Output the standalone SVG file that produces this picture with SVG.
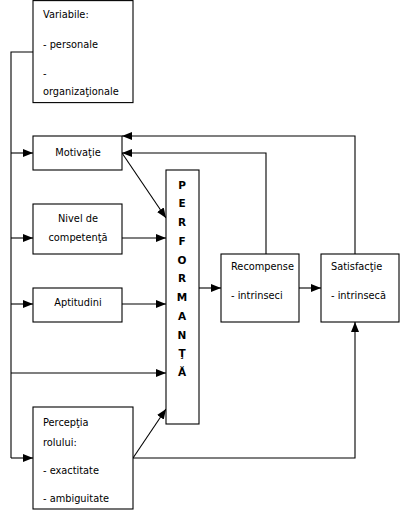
<svg xmlns="http://www.w3.org/2000/svg" width="401" height="530" viewBox="0 0 401 530">
<style>
.box{fill:#fff;stroke:#000;stroke-width:1.1}
.t{font-family:"DejaVu Sans",sans-serif;font-size:9.8px;fill:#000}
.c{text-anchor:middle}
.b{font-family:"DejaVu Sans",sans-serif;font-size:10.5px;font-weight:bold;text-anchor:middle;fill:#000}
.ln{fill:none;stroke:#000;stroke-width:1.1}
</style>
<defs>
<marker id="a" viewBox="0 0 10 8" refX="10" refY="4" markerWidth="10" markerHeight="8" markerUnits="userSpaceOnUse" orient="auto">
<path d="M0,0 L10,4 L0,8 z" fill="#000"/>
</marker>
</defs>
<rect width="401" height="530" fill="#fff"/>
<g id="connectors">
<path class="ln" d="M33,52 H11 V458"/>
<path class="ln" d="M11,153 H33" marker-end="url(#a)"/>
<path class="ln" d="M11,238 H33" marker-end="url(#a)"/>
<path class="ln" d="M11,304 H33" marker-end="url(#a)"/>
<path class="ln" d="M11,373 H166" marker-end="url(#a)"/>
<path class="ln" d="M11,458 H33" marker-end="url(#a)"/>
<path class="ln" d="M122,153 L166,218" marker-end="url(#a)"/>
<path class="ln" d="M122,238 H166" marker-end="url(#a)"/>
<path class="ln" d="M122,304 H166" marker-end="url(#a)"/>
<path class="ln" d="M133,458 L166,409" marker-end="url(#a)"/>
<path class="ln" d="M133,458 H355 V322" marker-end="url(#a)"/>
<path class="ln" d="M199,288 H221" marker-end="url(#a)"/>
<path class="ln" d="M299,288 H321" marker-end="url(#a)"/>
<path class="ln" d="M266,254 V153 H122" marker-end="url(#a)"/>
<path class="ln" d="M355,254 V136 H122" marker-end="url(#a)"/>
</g>
<g id="variabile">
<rect class="box" x="33" y="0.6" width="100" height="102"/>
<text class="t" x="43" y="18">Variabile:</text>
<text class="t" x="43" y="48">- personale</text>
<text class="t" x="43" y="77">-</text>
<text class="t" x="43" y="95">organizaţionale</text>
</g>
<g id="motivatie">
<rect class="box" x="33" y="136" width="89" height="34"/>
<text class="t c" x="78" y="156">Motivaţie</text>
</g>
<g id="competenta">
<rect class="box" x="33" y="204" width="89" height="50"/>
<text class="t c" x="78" y="222">Nivel de</text>
<text class="t c" x="78" y="241">competenţă</text>
</g>
<g id="aptitudini">
<rect class="box" x="33" y="288" width="89" height="34"/>
<text class="t c" x="78" y="306">Aptitudini</text>
</g>
<g id="perceptia">
<rect class="box" x="33" y="407" width="100" height="102"/>
<text class="t" x="43" y="426">Percepţia</text>
<text class="t" x="43" y="446">rolului:</text>
<text class="t" x="43" y="474">- exactitate</text>
<text class="t" x="43" y="502">- ambiguitate</text>
</g>
<g id="performanta">
<rect class="box" x="166" y="170" width="33" height="254"/>
<text class="b" x="182" y="189">P</text>
<text class="b" x="182" y="207">E</text>
<text class="b" x="182" y="226">R</text>
<text class="b" x="182" y="245">F</text>
<text class="b" x="182" y="264">O</text>
<text class="b" x="182" y="282">R</text>
<text class="b" x="182" y="301">M</text>
<text class="b" x="182" y="320">A</text>
<text class="b" x="182" y="339">N</text>
<text class="b" x="182" y="357">Ţ</text>
<text class="b" x="182" y="376">Ă</text>
</g>
<g id="recompense">
<rect class="box" x="221" y="254" width="78" height="68"/>
<text class="t" x="231" y="270">Recompense</text>
<text class="t" x="231" y="299">- intrinseci</text>
</g>
<g id="satisfactie">
<rect class="box" x="321" y="254" width="78" height="68"/>
<text class="t" x="331" y="270">Satisfacţie</text>
<text class="t" x="331" y="299">- intrinsecă</text>
</g>
</svg>
